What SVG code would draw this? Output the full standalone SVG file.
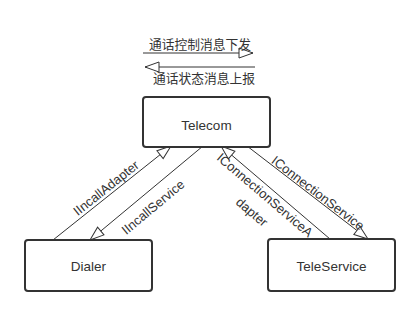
<svg xmlns="http://www.w3.org/2000/svg" width="420" height="315" viewBox="0 0 420 315">
<style>
.box{fill:#fff;stroke:#333;stroke-width:2}
.nt{font-family:"Liberation Sans",Arial,sans-serif;font-size:13.5px;fill:#333;text-anchor:middle}
.lt{font-family:"Liberation Sans",Arial,sans-serif;font-size:13px;fill:#333;text-anchor:middle}
.ct{font-family:"Liberation Sans","Noto Sans CJK SC",sans-serif;font-size:12.75px;fill:#333}
.ln{stroke:#333;stroke-width:1;fill:none;marker-end:url(#ah)}
</style>
<defs>
<marker id="ah" markerUnits="userSpaceOnUse" markerWidth="17" markerHeight="12" refX="15" refY="6" orient="auto" viewBox="0 0 17 12">
<path d="M1,1 L15,6 L1,11 Z" fill="#fff" stroke="#333" stroke-width="1"/>
</marker>
</defs>
<rect width="420" height="315" fill="#fff"/>
<g id="connectors">
<line class="ln" x1="143" y1="53" x2="253" y2="53"/>
<line class="ln" x1="255" y1="67" x2="145" y2="67"/>
<line class="ln" x1="53" y1="240" x2="171" y2="146"/>
<line class="ln" x1="203" y1="146" x2="90" y2="240"/>
<line class="ln" x1="330" y1="239" x2="221" y2="146"/>
<line class="ln" x1="247" y1="146" x2="368" y2="239"/>
</g>
<g id="labels">
<text class="ct" x="149" y="49">通话控制消息下发</text>
<text class="ct" x="153" y="83">通话状态消息上报</text>
<text class="lt" transform="translate(106,188) rotate(-38.5)" dy=".35em">IIncallAdapter</text>
<text class="lt" transform="translate(153,207) rotate(-39.8)" dy=".35em">IIncallService</text>
<text class="lt" transform="translate(318,193) rotate(37.5)" dy=".35em">IConnectionService</text>
<text class="lt" transform="translate(265,195) rotate(40.5)" dy=".35em">IConnectionServiceA</text>
<text class="lt" transform="translate(252,212) rotate(40.5)" dy=".35em">dapter</text>
</g>
<g id="telecom">
<rect class="box" x="143" y="97" width="127" height="50" rx="3"/>
<text class="nt" x="206.5" y="130">Telecom</text>
</g>
<g id="dialer">
<rect class="box" x="25" y="240" width="127" height="51" rx="3"/>
<text class="nt" x="88.5" y="271">Dialer</text>
</g>
<g id="teleservice">
<rect class="box" x="268" y="239" width="127" height="52" rx="3"/>
<text class="nt" x="331.5" y="271">TeleService</text>
</g>
</svg>
